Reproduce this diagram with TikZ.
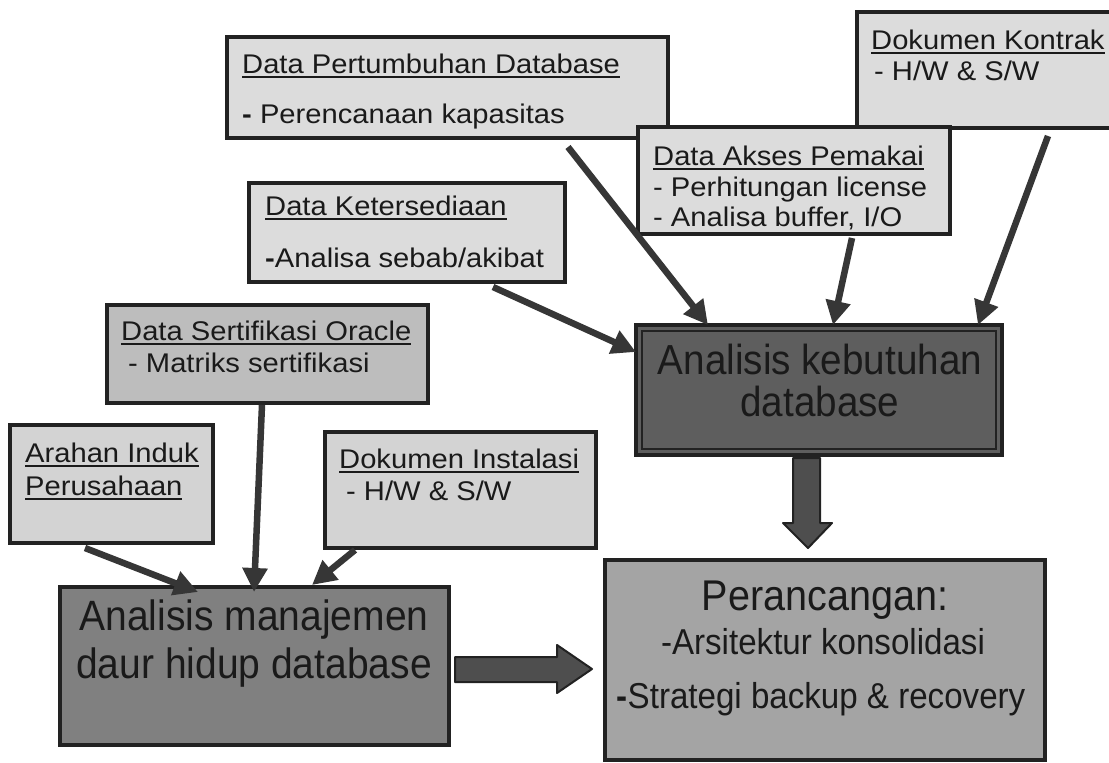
\documentclass[tikz,border=0pt]{standalone}
\usepackage{fontspec}
\setmainfont{Liberation Sans}
\newfontfamily\smfont{Liberation Sans}[FakeStretch=1.08]
\newfontfamily\nrfont{Liberation Sans}[FakeStretch=0.92]
\usetikzlibrary{arrows.meta,calc}

\definecolor{ink}{HTML}{1A1A1A}
\definecolor{edge}{HTML}{222222}
\definecolor{paleA}{HTML}{DCDCDC}
\definecolor{paleB}{HTML}{D3D3D3}
\definecolor{paleC}{HTML}{BDBDBD}
\definecolor{darkbox}{HTML}{5E5E5E}
\definecolor{midbox}{HTML}{808080}
\definecolor{greybox}{HTML}{A4A4A4}
\definecolor{shaft}{HTML}{363636}
\definecolor{bigfill}{HTML}{4E4E4E}

% underlined heading with a heavy rule
\newcommand{\ulx}[1]{\setbox0\hbox{#1}\rlap{\rule[-5pt]{\wd0}{1.8pt}}\box0}
% heavy bullet dash
\newcommand{\hd}{{\bfseries -}}

\tikzset{
  box/.style={draw=edge, line width=3.2pt, anchor=north west, inner sep=0pt, outer sep=0pt},
  txt/.style={anchor=base west, inner sep=0pt, text=ink, font=\smfont\fontsize{27}{32}\selectfont},
  bigtxt/.style={anchor=base, inner sep=0pt, text=ink},
  arr/.style={draw=shaft, line width=6.5pt, -{Triangle[width=24pt,length=24pt]}},
  fat/.style={fill=bigfill, draw=edge, line width=2pt, line join=round},
}

\begin{document}
\begin{tikzpicture}[x=1pt,y=-1pt]
\useasboundingbox[fill=white] (0,0) rectangle (1109,763);

% ---- source boxes, upper group
\node[box, fill=paleA, minimum width=441pt, minimum height=101pt] (pert) at (227,37) {};
\node[box, fill=paleA, minimum width=262pt, minimum height=116pt] (kontrak) at (857,12) {};
\node[box, fill=paleA, minimum width=312pt, minimum height=107pt] (akses) at (638,127) {};
\node[box, fill=paleA, minimum width=316pt, minimum height=99pt] (keters) at (249,183) {};

% ---- source boxes, lower group
\node[box, fill=paleC, minimum width=321pt, minimum height=98pt] (sert) at (107,305) {};
\node[box, fill=paleB, minimum width=203pt, minimum height=118pt] (arahan) at (10,425) {};
\node[box, fill=paleB, minimum width=271pt, minimum height=116pt] (instal) at (325,432) {};

% ---- analysis and design boxes
\node[box, fill=darkbox, line width=4pt, minimum width=366pt, minimum height=130pt] (kebut) at (636,325) {};
\draw[edge, line width=1.2pt] ($(kebut.north west)+(6,6)$) rectangle ($(kebut.south east)+(-6,-6)$);
\node[box, fill=midbox, line width=4.5pt, minimum width=389pt, minimum height=158pt] (manaj) at (60,587) {};
\node[box, fill=greybox, line width=4.5pt, minimum width=440pt, minimum height=200pt] (peran) at (605,560) {};

% ---- texts of the source boxes
\node[txt] (pert1) at (242,73) {\ulx{Data Pertumbuhan Database}};
\node[txt] (pert2) at (242,123) {\hd{} Perencanaan kapasitas};
\node[txt] (kon1) at (871,49) {\ulx{Dokumen Kontrak}};
\node[txt] (kon2) at (874,80) {- H/W \& S/W};
\node[txt] (aks1) at (653,165) {\ulx{Data Akses Pemakai}};
\node[txt] (aks2) at (653,196) {- Perhitungan license};
\node[txt] (aks3) at (653,226) {- Analisa buffer, I/O};
\node[txt] (ket1) at (265,215) {\ulx{Data Ketersediaan}};
\node[txt] (ket2) at (265,267) {\hd{}Analisa sebab/akibat};
\node[txt] (ser1) at (121,340) {\ulx{Data Sertifikasi Oracle}};
\node[txt] (ser2) at (128,372) {- Matriks sertifikasi};
\node[txt] (ara1) at (25,462) {\ulx{Arahan Induk}};
\node[txt] (ara2) at (25,495) {\ulx{Perusahaan}};
\node[txt] (ins1) at (339,468) {\ulx{Dokumen Instalasi}};
\node[txt] (ins2) at (346,500) {- H/W \& S/W};

% ---- texts of the main boxes
\node[bigtxt, font=\nrfont\fontsize{42}{48}\selectfont] (keb1) at (820,374) {Analisis kebutuhan};
\node[bigtxt, font=\nrfont\fontsize{42}{48}\selectfont] (keb2) at (820,416) {database};
\node[bigtxt, font=\nrfont\fontsize{42.4}{48}\selectfont] (man1) at (254,630) {Analisis manajemen};
\node[bigtxt, font=\nrfont\fontsize{42.4}{48}\selectfont] (man2) at (254,678) {daur hidup database};
\node[bigtxt, font=\nrfont\fontsize{43}{48}\selectfont] (per1) at (825,610) {Perancangan:};
\node[bigtxt, font=\nrfont\fontsize{36}{42}\selectfont] (per2) at (823,654) {-Arsitektur konsolidasi};
\node[bigtxt, font=\nrfont\fontsize{36}{42}\selectfont] (per3) at (821,708) {\hd{}Strategi backup \& recovery};

% ---- inputs into the requirement analysis
\draw[arr] ($(pert.south west)+(341,9)$) -- ($(kebut.north west)+(72,0)$);
\draw[arr] ($(akses.south west)+(214,4)$) -- ($(kebut.north west)+(197,0)$);
\draw[arr] ($(kontrak.south west)+(191,8)$) -- ($(kebut.north west)+(342,0)$);
\draw[arr] ($(keters.south west)+(244,5)$) -- ($(kebut.north west)+(0,27)$);

% ---- inputs into the life-cycle analysis
\draw[arr] ($(arahan.south west)+(75,5)$) -- ($(manaj.north west)+(138,5)$);
\draw[arr] ($(sert.south west)+(155,2)$) -- ($(manaj.north west)+(194,5)$);
\draw[arr] ($(instal.south west)+(30,2)$) -- ($(manaj.north west)+(252,-2)$);

% ---- block arrows into the design box
\draw[fat] ($(kebut.south west)+(157,3)$) -- ($(kebut.south west)+(184,3)$)
  -- ($(kebut.south west)+(184,68)$) -- ($(kebut.south west)+(196,68)$)
  -- ($(kebut.south west)+(172,93)$) -- ($(kebut.south west)+(147,68)$)
  -- ($(kebut.south west)+(157,68)$) -- cycle;
\draw[fat] ($(manaj.east)+(6,-9)$) -- ($(manaj.east)+(108,-9)$)
  -- ($(manaj.east)+(108,-21)$) -- ($(manaj.east)+(143,3)$)
  -- ($(manaj.east)+(108,27)$) -- ($(manaj.east)+(108,16)$)
  -- ($(manaj.east)+(6,16)$) -- cycle;
\end{tikzpicture}
\end{document}
